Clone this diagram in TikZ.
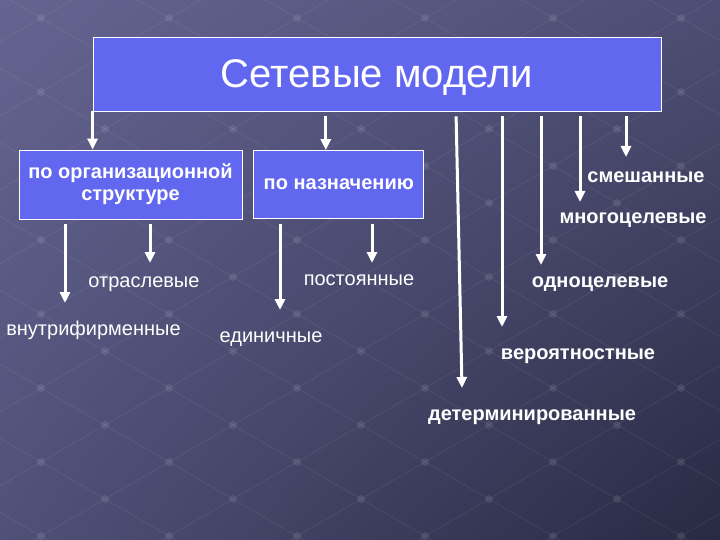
\documentclass[tikz,border=0pt]{standalone}
\usepackage{fontspec}
\setmainfont{Liberation Sans}
\usetikzlibrary{positioning,arrows.meta,shadings}
\definecolor{boxblue}{RGB}{98,103,240}
\definecolor{bgTL}{RGB}{100,100,145}
\definecolor{bgTR}{RGB}{78,78,116}
\definecolor{bgBL}{RGB}{80,81,120}
\definecolor{bgBR}{RGB}{40,41,66}

\begin{document}
\begin{tikzpicture}[x=1pt,y=-1pt,
box/.style={draw=white, line width=0.8pt, fill=boxblue, text=white, align=center, inner sep=0pt, font=\fontsize{20}{22}\selectfont\bfseries},
head/.style={box, font=\fontsize{40}{44}\selectfont},
lbl/.style={text=white, anchor=base, inner sep=0pt, font=\fontsize{20}{22}\selectfont},
lblb/.style={lbl, font=\fontsize{20}{22}\selectfont\bfseries},
arr/.style={draw=white, line width=3pt, -{Triangle[width=10pt,length=11pt]}},
]
\useasboundingbox (0,0) rectangle (720,540);
% background with the faint lattice
\begin{scope}
\clip (0,0) rectangle (720,540);
\shade[upper left=bgTL, upper right=bgTR, lower left=bgBL, lower right=bgBR] (0,0) rectangle (720,540);
\foreach \k in {-10,...,12} {
  \draw[white, opacity=.06, line width=1pt] ({41+64*(\k-10)},{388+37*(\k+10)}) -- ({41+64*(\k+12)},{388+37*(\k-12)});
  \draw[white, opacity=.06, line width=1pt] ({41+64*(\k-10)},{388+37*(-10-\k)}) -- ({41+64*(\k+12)},{388+37*(12-\k)});
}
\foreach \i in {-10,...,12}
  \foreach \j in {-10,...,12}
    \fill[white, opacity=.09] ({41+64*(\i+\j)},{388+37*(\j-\i)}) circle (4);
\end{scope}

% title and the two boxes
\node[head, minimum width=568pt, minimum height=74pt, text depth=0pt] (models) at (377,74) {Сетевые модели};
\node[box, minimum width=223pt, minimum height=69pt] (orgbox) at (130.5,184.5) {по организационной\\структуре};
\node[box, minimum width=170pt, minimum height=68pt, right=11pt of orgbox] (purpose) {по назначению};

% labels
\node[lbl] (branch) at (144,287) {отраслевые};
\node[lbl] (intra) at (93.5,335) {внутрифирменные};
\node[lbl] (unit) at (271,342) {единичные};
\node[lbl] (perm) at (359,285) {постоянные};
\node[lblb] (mixed) at (646,183) {смешанные};
\node[lblb] (multi) at (633,223) {многоцелевые};
\node[lblb] (single) at (600,287) {одноцелевые};
\node[lblb] (prob) at (578,359) {вероятностные};
\node[lblb] (determ) at (532,420) {детерминированные};

% arrow tips
\coordinate (intraTip) at (65,303);
\coordinate (branchTip) at (150,263);
\coordinate (unitTip) at (280,310);
\coordinate (permTip) at (372,263);
\coordinate (determTip) at (462,388);
\coordinate (probTip) at (502,327);
\coordinate (singleTip) at (541,265);
\coordinate (multiTip) at (580,202);
\coordinate (mixedTip) at (626,157);

% from the title
\draw[arr] (models.south west) -- (models.south west |- orgbox.north);
\draw[arr, shorten <=5pt] ([xshift=-13pt]purpose.north |- models.south) -- ([xshift=-13pt]purpose.north);
\draw[arr, shorten <=5pt] ([xshift=-6pt]determTip |- models.south) -- (determTip);
\draw[arr, shorten <=5pt] (models.south -| probTip) -- (probTip);
\draw[arr, shorten <=5pt] (models.south -| singleTip) -- (singleTip);
\draw[arr, shorten <=5pt] (models.south -| multiTip) -- (multiTip);
\draw[arr, shorten <=5pt] (models.south -| mixedTip) -- (mixedTip);

% from the boxes
\draw[arr, shorten <=5pt] (orgbox.south -| intraTip) -- (intraTip);
\draw[arr, shorten <=5pt] (orgbox.south -| branchTip) -- (branchTip);
\draw[arr, shorten <=5pt] (purpose.south -| unitTip) -- (unitTip);
\draw[arr, shorten <=5pt] (purpose.south -| permTip) -- (permTip);
\end{tikzpicture}
\end{document}
